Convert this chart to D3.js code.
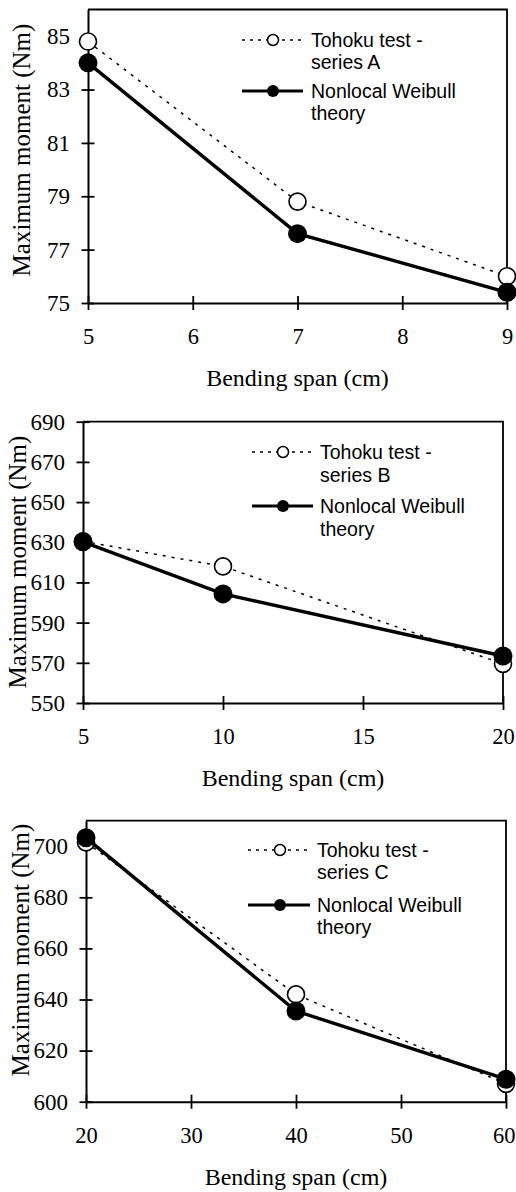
<!DOCTYPE html>
<html>
<head>
<meta charset="utf-8">
<script src="https://cdn.jsdelivr.net/npm/d3@7/dist/d3.min.js"></script>
<style>
  html, body { margin: 0; padding: 0; background: #fff; }
  svg { display: block; }
</style>
</head>
<body>
<svg id="fig" width="516" height="1192"></svg>
<script>
// Bending span (cm) for each test series
const spanA = [5, 7, 9];
const spanB = [5, 10, 20];
const spanC = [20, 40, 60];

// Measured maximum moment (Nm), Tohoku tests
const testA = [84.8, 78.8, 76.0];
const testB = [630.5, 618, 569.5];
const testC = [701.5, 642, 607];

// Predicted maximum moment (Nm), nonlocal Weibull theory
const theoryA = [84.0, 77.6, 75.4];
const theoryB = [630.2, 604.3, 573.4];
const theoryC = [703.3, 635.5, 608.8];

// Axis ranges and tick values
const xDomainA = [5, 9],   xTicksA = [5, 6, 7, 8, 9];
const xDomainB = [5, 20],  xTicksB = [5, 10, 15, 20];
const xDomainC = [20, 60], xTicksC = [20, 30, 40, 50, 60];
const yDomainA = [75, 86],   yTicksA = [75, 77, 79, 81, 83, 85];
const yDomainB = [550, 690], yTicksB = [550, 570, 590, 610, 630, 650, 670, 690];
const yDomainC = [600, 710], yTicksC = [600, 620, 640, 660, 680, 700];

// Legend text
const testLabelA = ["Tohoku test -", "series A"];
const testLabelB = ["Tohoku test -", "series B"];
const testLabelC = ["Tohoku test -", "series C"];
const theoryLabel = ["Nonlocal Weibull", "theory"];

const xTitle = "Bending span (cm)";
const yTitle = "Maximum moment (Nm)";

const panels = [
  { span: spanA, test: testA, theory: theoryA, xDomain: xDomainA, xTicks: xTicksA,
    yDomain: yDomainA, yTicks: yTicksA, testLabel: testLabelA,
    box: { left: 88, right: 507, top: 9.5, bottom: 303 },
    legend: { x0: 242, x1: 303, cx: 273, tx: 311, rows: [40, 62, 91, 113] },
    yTitleX: 21, yTitleY: 150 },
  { span: spanB, test: testB, theory: theoryB, xDomain: xDomainB, xTicks: xTicksB,
    yDomain: yDomainB, yTicks: yTicksB, testLabel: testLabelB,
    box: { left: 83, right: 503, top: 421.7, bottom: 703 },
    legend: { x0: 252, x1: 313, cx: 283, tx: 320, rows: [452, 475, 506, 529] },
    yTitleX: 17, yTitleY: 562 },
  { span: spanC, test: testC, theory: theoryC, xDomain: xDomainC, xTicks: xTicksC,
    yDomain: yDomainC, yTicks: yTicksC, testLabel: testLabelC,
    box: { left: 86, right: 506, top: 820.7, bottom: 1101.7 },
    legend: { x0: 248, x1: 310, cx: 280, tx: 317, rows: [850, 872, 905, 927] },
    yTitleX: 20, yTitleY: 950 }
];

const W = 516;
const serif = "'Liberation Serif', 'Times New Roman', serif";
const sans = "'Liberation Sans', Arial, sans-serif";
const svg = d3.select("#fig");

panels.forEach(p => {
  const b = p.box;
  const x = d3.scaleLinear().domain(p.xDomain).range([b.left, b.right]);
  const y = d3.scaleLinear().domain(p.yDomain).range([b.bottom, b.top]);
  const g = svg.append("g");

  // Frame: top and right edges of the plot area
  g.append("path")
    .attr("d", `M${b.left},${b.top}H${b.right}V${b.bottom}`)
    .attr("fill", "none").attr("stroke", "#000").attr("stroke-width", 1.8);

  // Left axis with cross ticks
  const yAxis = g.append("g").attr("transform", `translate(${b.left},0)`)
    .call(d3.axisLeft(y).tickValues(p.yTicks).tickSize(0).tickPadding(18).tickFormat(d3.format("d")));
  yAxis.select(".domain").attr("stroke-width", 2);
  yAxis.selectAll(".tick line").remove();
  yAxis.selectAll(".tick").append("line")
    .attr("x1", -6.5).attr("x2", 6.5).attr("stroke", "#000").attr("stroke-width", 1.8);
  yAxis.selectAll(".tick text")
    .attr("font-family", serif).attr("font-size", 23).attr("fill", "#000");

  // Bottom axis with cross ticks
  const xAxis = g.append("g").attr("transform", `translate(0,${b.bottom})`)
    .call(d3.axisBottom(x).tickValues(p.xTicks).tickSize(0).tickPadding(25).tickFormat(d3.format("d")));
  xAxis.select(".domain").attr("stroke-width", 2);
  xAxis.selectAll(".tick line").remove();
  xAxis.selectAll(".tick").append("line")
    .attr("y1", -7).attr("y2", 7).attr("stroke", "#000").attr("stroke-width", 1.8);
  xAxis.selectAll(".tick text")
    .attr("font-family", serif).attr("font-size", 22.5).attr("fill", "#000")
    .each(function (d) {
      // keep the right-most label inside the page
      const overhang = x(d) + this.getComputedTextLength() / 2 - (W - 1);
      if (overhang > 0) d3.select(this).attr("dx", -overhang);
    });

  // Axis titles
  g.append("text")
    .attr("x", (b.left + b.right) / 2).attr("y", b.bottom + 75)
    .attr("text-anchor", "middle").attr("dominant-baseline", "central")
    .attr("font-family", serif).attr("font-size", 24).text(xTitle);
  g.append("text")
    .attr("transform", `translate(${p.yTitleX},${p.yTitleY}) rotate(-90)`)
    .attr("text-anchor", "middle").attr("dominant-baseline", "central")
    .attr("font-family", serif).attr("font-size", 25).text(yTitle);

  const line = d3.line().x(d => x(d[0])).y(d => y(d[1]));
  const testPts = p.span.map((s, i) => [s, p.test[i]]);
  const theoryPts = p.span.map((s, i) => [s, p.theory[i]]);

  // Measured series: dotted line with open circles
  g.append("path").attr("d", line(testPts))
    .attr("fill", "none").attr("stroke", "#000").attr("stroke-width", 1.5)
    .attr("stroke-dasharray", "3,6");
  g.selectAll(".test-pt").data(testPts).join("circle")
    .attr("cx", d => x(d[0])).attr("cy", d => y(d[1])).attr("r", 8.5)
    .attr("fill", "#fff").attr("stroke", "#000").attr("stroke-width", 1.6);

  // Theory series: heavy line with filled circles
  g.append("path").attr("d", line(theoryPts))
    .attr("fill", "none").attr("stroke", "#000").attr("stroke-width", 3.4);
  g.selectAll(".theory-pt").data(theoryPts).join("circle")
    .attr("cx", d => x(d[0])).attr("cy", d => y(d[1])).attr("r", 9.5)
    .attr("fill", "#000");

  // Legend
  const L = p.legend;
  g.append("line")
    .attr("x1", L.x0).attr("x2", L.x1).attr("y1", L.rows[0]).attr("y2", L.rows[0])
    .attr("stroke", "#000").attr("stroke-width", 1.5).attr("stroke-dasharray", "3,5");
  g.append("circle").attr("cx", L.cx).attr("cy", L.rows[0]).attr("r", 5.5)
    .attr("fill", "#fff").attr("stroke", "#000").attr("stroke-width", 1.5);
  g.append("line")
    .attr("x1", L.x0).attr("x2", L.x1).attr("y1", L.rows[2]).attr("y2", L.rows[2])
    .attr("stroke", "#000").attr("stroke-width", 3);
  g.append("circle").attr("cx", L.cx).attr("cy", L.rows[2]).attr("r", 6)
    .attr("fill", "#000");

  const labels = [p.testLabel[0], p.testLabel[1], theoryLabel[0], theoryLabel[1]];
  labels.forEach((t, i) => {
    g.append("text")
      .attr("x", L.tx).attr("y", L.rows[i])
      .attr("dominant-baseline", "central")
      .attr("font-family", sans).attr("font-size", 19.5).attr("fill", "#000")
      .text(t);
  });
});
</script>
</body>
</html>
